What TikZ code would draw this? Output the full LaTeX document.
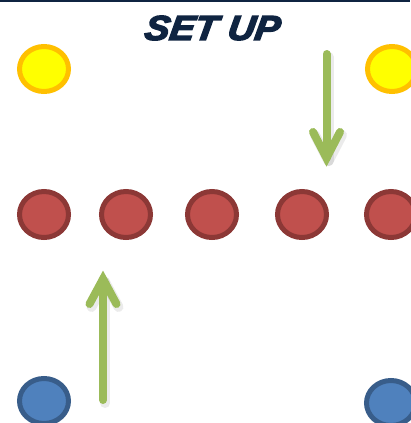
\documentclass[tikz,border=0pt]{standalone}
\usepackage{fontspec}
\usetikzlibrary{shapes.geometric}
\newfontfamily\titlefont[FakeBold=4,FakeSlant=0.14]{Liberation Sans Bold Italic}
\definecolor{navy}{HTML}{0F2441}
\definecolor{yfill}{HTML}{FFFF00}
\definecolor{yline}{HTML}{FFC000}
\definecolor{rfill}{HTML}{C0504D}
\definecolor{rline}{HTML}{8C3836}
\definecolor{bfill}{HTML}{4F81BD}
\definecolor{bline}{HTML}{385D8A}
\definecolor{agreen}{HTML}{9BBB59}
\tikzset{
  player/.style={ellipse, inner sep=0pt, line width=5pt, minimum width=49pt, minimum height=45pt},
  yellowp/.style={player, draw=yline, fill=yfill},
  redp/.style={player, draw=rline, fill=rfill, minimum height=46pt},
  bluep/.style={player, draw=bline, fill=bfill},
  greenarrow/.style={draw=agreen, line width=8pt, line cap=round},
  arrowshadow/.style={draw=black, opacity=0.08, line width=10pt, line cap=round},
}
\begin{document}
\begin{tikzpicture}[x=1pt,y=-1pt]
\useasboundingbox (0,0) rectangle (410,423);
\fill[navy] (0,0) rectangle (410,2.2);
\node[text=navy, font=\titlefont\fontsize{34}{34}\selectfont, xscale=1.1, yscale=1.02, inner sep=0pt] (title) at (211,28) {SET UP};
% yellow
\node[yellowp] (y1) at (44,69) {};
\node[yellowp] (y2) at (392,69) {};
% red
\node[redp] (r1) at (44,214.5) {};
\node[redp] (r2) at (126,214.5) {};
\node[redp] (r3) at (212,214.5) {};
\node[redp] (r4) at (302,214.5) {};
\node[redp] (r5) at (391,214.5) {};
% blue
\node[bluep] (b1) at (44,401) {};
\node[bluep] (b2) at (391,403) {};
% arrow down
\coordinate (dtop) at (326.5,54);
\coordinate (dtip) at (326.5,158);
\coordinate (dl) at (313,132);
\coordinate (dr) at (340,132);
\draw[arrowshadow] ([shift={(2,3)}]dtop) -- ([shift={(2,3)}]dtip);
\draw[arrowshadow, line join=round] ([shift={(2,3)}]dl) -- ([shift={(2,3)}]dtip) -- ([shift={(2,3)}]dr);
\draw[greenarrow] (dtop) -- (dtip);
\draw[greenarrow, line join=miter] (dl) -- (dtip) -- (dr);
% arrow up
\coordinate (ubot) at (103,400);
\coordinate (utip) at (103,279);
\coordinate (ul) at (89.5,304);
\coordinate (ur) at (116.5,304);
\draw[arrowshadow] ([shift={(2,3)}]ubot) -- ([shift={(2,3)}]utip);
\draw[arrowshadow, line join=round] ([shift={(2,3)}]ul) -- ([shift={(2,3)}]utip) -- ([shift={(2,3)}]ur);
\draw[greenarrow] (ubot) -- (utip);
\draw[greenarrow, line join=miter] (ul) -- (utip) -- (ur);
\end{tikzpicture}
\end{document}
